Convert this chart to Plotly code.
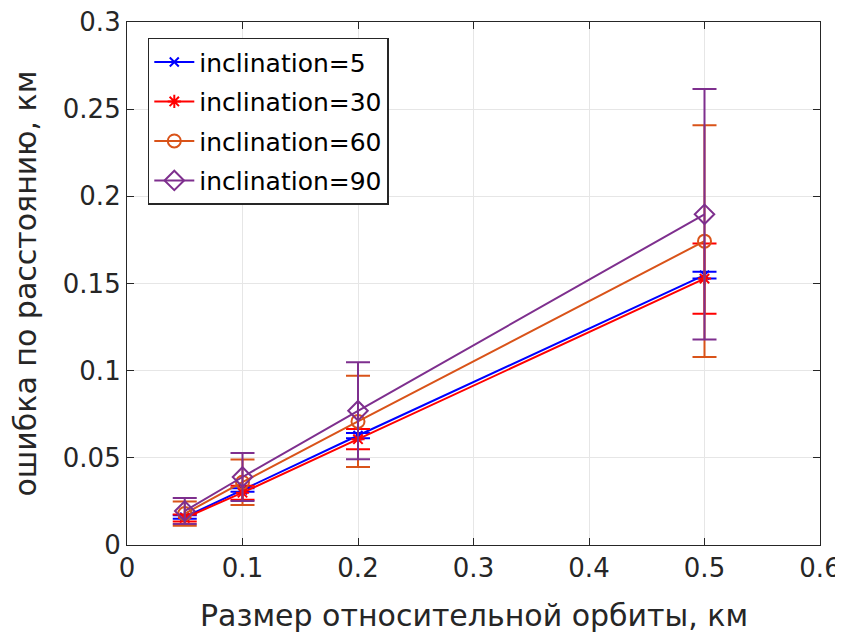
import plotly.graph_objects as go

x_vals = [0.05, 0.1, 0.2, 0.5]
names = ["inclination=5", "inclination=30", "inclination=60", "inclination=90"]

y_incl5 = [0.016, 0.0316, 0.0628, 0.1548]
err_incl5 = [0.001, 0.001, 0.0015, 0.002]
y_incl30 = [0.0155, 0.030, 0.0607, 0.1528]
err_incl30 = [0.002, 0.004, 0.0058, 0.0202]
y_incl60 = [0.018, 0.036, 0.0709, 0.1743]
err_incl60 = [0.007, 0.013, 0.0262, 0.0665]
y_incl90 = [0.0195, 0.039, 0.077, 0.1897]
err_incl90 = [0.0075, 0.0138, 0.0278, 0.0718]

x_ticks = [0, 0.1, 0.2, 0.3, 0.4, 0.5, 0.6]
x_ticktext = ["0", "0.1", "0.2", "0.3", "0.4", "0.5", "0.6"]
y_ticks = [0, 0.05, 0.1, 0.15, 0.2, 0.25, 0.3]
y_ticktext = ["0", "0.05", "0.1", "0.15", "0.2", "0.25", "0.3"]
x_title = "Размер относительной орбиты, км"
y_title = "ошибка по расстоянию, км"

colors = ["#0000FF", "#FF0000", "#D95319", "#7E2F8E"]
symbols = ["x-thin-open", "asterisk-open", "circle-open", "diamond-open"]
sizes = [9, 11, 13, 15]

font_family = "DejaVu Sans, sans-serif"
fig = go.Figure()
for i, (name, ys, es, c, s, sz) in enumerate(zip(
        names, [y_incl5, y_incl30, y_incl60, y_incl90],
        [err_incl5, err_incl30, err_incl60, err_incl90],
        colors, symbols, sizes)):
    fig.add_trace(go.Scatter(
        x=x_vals, y=ys, name=name, mode="lines+markers", legendgroup=f"g{i}",
        line=dict(color=c, width=2),
        marker=dict(symbol=s, size=sz, color=c, line=dict(color=c, width=2)),
        error_y=dict(type="data", array=es, visible=True, color=c, thickness=2, width=12),
    ))

axis_common = dict(
    showline=True, linecolor="#262626", linewidth=1.2, mirror="ticks",
    ticks="inside", ticklen=7, tickcolor="#262626", tickwidth=1.2,
    showgrid=True, gridcolor="#E6E6E6", gridwidth=1, zeroline=False,
    automargin=False, ticklabeloverflow="allow",
    tickfont=dict(size=26, color="#262626", family=font_family),
)
fig.update_xaxes(range=[0, 0.6], tickvals=x_ticks, ticktext=x_ticktext, **axis_common)
fig.update_yaxes(range=[0, 0.3], tickvals=y_ticks, ticktext=y_ticktext, **axis_common)

title_font = dict(size=30, color="#262626", family=font_family)
fig.add_annotation(text=x_title, xref="paper", yref="paper", x=0.5, y=0,
                   xanchor="center", yanchor="middle", yshift=-70, showarrow=False,
                   font=title_font)
fig.add_annotation(text=y_title, xref="paper", yref="paper", x=0, y=0.5,
                   xanchor="center", yanchor="middle", xshift=-102, textangle=-90,
                   showarrow=False, font=title_font)

# page body has an 8px margin, so margins are compensated
fig.update_layout(
    width=843, height=636,
    margin=dict(l=119, r=31, t=14, b=99),
    plot_bgcolor="white", paper_bgcolor="white",
    showlegend=True,
    legend=dict(x=0.03, y=0.97, xanchor="left", yanchor="top",
                bgcolor="white", bordercolor="#262626", borderwidth=1.5,
                font=dict(size=25, color="#000000", family=font_family),
                traceorder="grouped", tracegroupgap=4, itemwidth=40),
)
fig.write_html("out.html")
